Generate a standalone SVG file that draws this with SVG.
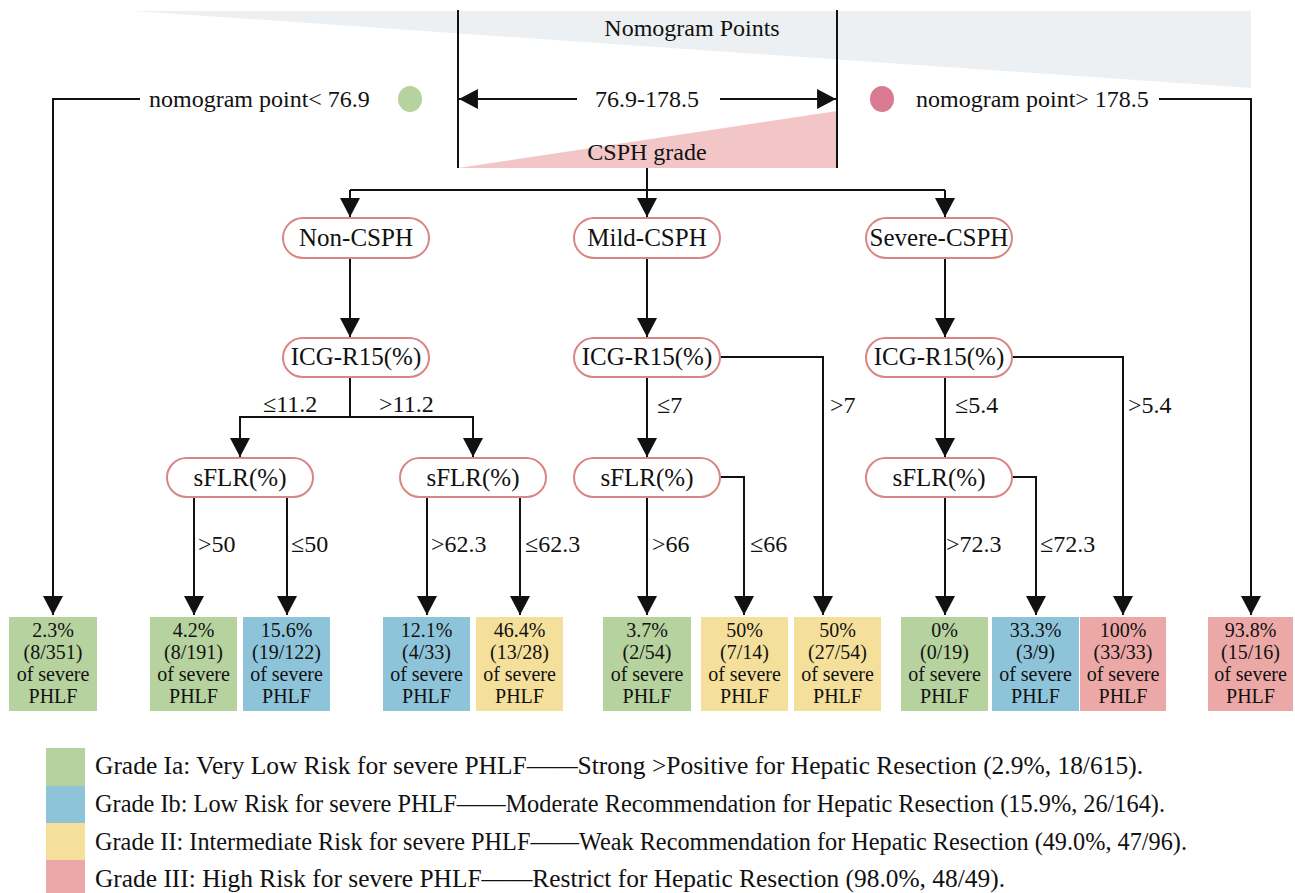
<svg xmlns="http://www.w3.org/2000/svg" width="1295" height="893" viewBox="0 0 1295 893" font-family="'Liberation Serif', 'DejaVu Serif', 'Times New Roman', serif">
<style>
text{font-family:'Liberation Serif','DejaVu Serif','Times New Roman',serif;fill:#111}
.t{font-size:24px}
.lb{font-size:24px}
.bx{font-size:20px;text-anchor:middle}
.lg{font-size:24.5px}
.node rect{fill:#fff;stroke:#d98584;stroke-width:2}
.node text{font-size:25px;text-anchor:middle}
.c{fill:none;stroke:#111;stroke-width:2}
.ca{fill:none;stroke:#111;stroke-width:2;marker-end:url(#ah)}
.g{fill:#b6d29e}.b{fill:#8ec4da}.y{fill:#f5e09b}.r{fill:#eca8a6}
</style>
<defs>
<marker id="ah" markerUnits="userSpaceOnUse" markerWidth="20" markerHeight="20" refX="18" refY="9.5" orient="auto" viewBox="0 0 18 19">
<path d="M0,0 L18,9.5 L0,19 z" fill="#111"/>
</marker>
</defs>

<g id="header">
<polygon points="133,11 1251,11 1251,88" fill="#edf0f2"/>
<polygon points="458,168 837,111 837,168" fill="#f2c6c6"/>
<line x1="458" y1="10" x2="458" y2="168" stroke="#111" stroke-width="2"/>
<line x1="837" y1="10" x2="837" y2="168" stroke="#111" stroke-width="2"/>
<text class="t" x="692" y="36" text-anchor="middle">Nomogram Points</text>
<text class="t" x="647" y="107" text-anchor="middle">76.9-178.5</text>
<text class="t" x="647" y="160" text-anchor="middle">CSPH grade</text>
<text class="t" x="149" y="107">nomogram point&lt; 76.9</text>
<ellipse cx="410" cy="99" rx="12" ry="13" fill="#b6d29e"/>
<ellipse cx="882" cy="99" rx="12" ry="13" fill="#d97a92"/>
<text class="t" x="916" y="107">nomogram point&gt; 178.5</text>
</g>

<g id="connectors">
<polyline class="ca" points="140,99 53,99 53,615"/>
<line class="ca" x1="577" y1="99" x2="459" y2="99"/>
<line class="ca" x1="720" y1="99" x2="836" y2="99"/>
<polyline class="ca" points="1159,99 1251,99 1251,615"/>
<polyline class="c" points="647,168 647,190"/>
<polyline class="c" points="350,190 945,190"/>
<line class="ca" x1="350" y1="190" x2="350" y2="217"/>
<line class="ca" x1="647" y1="190" x2="647" y2="217"/>
<line class="ca" x1="945" y1="190" x2="945" y2="217"/>
<line class="ca" x1="350" y1="258" x2="350" y2="337"/>
<line class="ca" x1="647" y1="258" x2="647" y2="337"/>
<line class="ca" x1="945" y1="258" x2="945" y2="337"/>
<polyline class="c" points="350,377 350,417"/>
<polyline class="ca" points="350,417 240,417 240,457"/>
<polyline class="ca" points="350,417 473,417 473,457"/>
<line class="ca" x1="647" y1="377" x2="647" y2="457"/>
<polyline class="ca" points="720,357 823,357 823,615"/>
<line class="ca" x1="945" y1="377" x2="945" y2="457"/>
<polyline class="ca" points="1012,357 1123,357 1123,615"/>
<line class="ca" x1="194" y1="497" x2="194" y2="615"/>
<line class="ca" x1="287" y1="497" x2="287" y2="615"/>
<line class="ca" x1="427" y1="497" x2="427" y2="615"/>
<line class="ca" x1="520" y1="497" x2="520" y2="615"/>
<line class="ca" x1="647" y1="497" x2="647" y2="615"/>
<polyline class="ca" points="720,477 744,477 744,615"/>
<line class="ca" x1="945" y1="497" x2="945" y2="615"/>
<polyline class="ca" points="1012,477 1036,477 1036,615"/>
<text class="lb" x="263" y="412">≤11.2</text>
<text class="lb" x="379" y="412">&gt;11.2</text>
<text class="lb" x="657" y="413">≤7</text>
<text class="lb" x="830" y="413">&gt;7</text>
<text class="lb" x="955" y="413">≤5.4</text>
<text class="lb" x="1128" y="413">&gt;5.4</text>
<text class="lb" x="198" y="552">&gt;50</text>
<text class="lb" x="291" y="552">≤50</text>
<text class="lb" x="431" y="552">&gt;62.3</text>
<text class="lb" x="525" y="552">≤62.3</text>
<text class="lb" x="652" y="552">&gt;66</text>
<text class="lb" x="750" y="552">≤66</text>
<text class="lb" x="946" y="552">&gt;72.3</text>
<text class="lb" x="1040" y="552">≤72.3</text>
</g>

<g id="n-non" class="node"><rect x="283" y="218" width="146" height="40" rx="20"/><text x="356" y="246">Non-CSPH</text></g>
<g id="n-mild" class="node"><rect x="574" y="218" width="146" height="40" rx="20"/><text x="647" y="246">Mild-CSPH</text></g>
<g id="n-severe" class="node"><rect x="866" y="218" width="146" height="40" rx="20"/><text x="939" y="246">Severe-CSPH</text></g>
<g id="n-icg1" class="node"><rect x="283" y="338" width="146" height="39" rx="19.5"/><text x="356" y="365">ICG-R15(%)</text></g>
<g id="n-icg2" class="node"><rect x="574" y="338" width="146" height="39" rx="19.5"/><text x="647" y="365">ICG-R15(%)</text></g>
<g id="n-icg3" class="node"><rect x="866" y="338" width="146" height="39" rx="19.5"/><text x="939" y="365">ICG-R15(%)</text></g>
<g id="n-sflr1" class="node"><rect x="167" y="458" width="146" height="39" rx="19.5"/><text x="240" y="486">sFLR(%)</text></g>
<g id="n-sflr2" class="node"><rect x="400" y="458" width="146" height="39" rx="19.5"/><text x="473" y="486">sFLR(%)</text></g>
<g id="n-sflr3" class="node"><rect x="574" y="458" width="146" height="39" rx="19.5"/><text x="647" y="486">sFLR(%)</text></g>
<g id="n-sflr4" class="node"><rect x="866" y="458" width="146" height="39" rx="19.5"/><text x="939" y="486">sFLR(%)</text></g>

<g id="leaf1"><rect class="g" x="9" y="617" width="88" height="94"/><text class="bx" x="53" y="637">2.3%</text><text class="bx" x="53" y="659">(8/351)</text><text class="bx" x="53" y="681">of severe</text><text class="bx" x="53" y="703">PHLF</text></g>
<g id="leaf2"><rect class="g" x="150" y="617" width="87" height="94"/><text class="bx" x="193.5" y="637">4.2%</text><text class="bx" x="193.5" y="659">(8/191)</text><text class="bx" x="193.5" y="681">of severe</text><text class="bx" x="193.5" y="703">PHLF</text></g>
<g id="leaf3"><rect class="b" x="243" y="617" width="87" height="94"/><text class="bx" x="286.5" y="637">15.6%</text><text class="bx" x="286.5" y="659">(19/122)</text><text class="bx" x="286.5" y="681">of severe</text><text class="bx" x="286.5" y="703">PHLF</text></g>
<g id="leaf4"><rect class="b" x="383" y="617" width="87" height="94"/><text class="bx" x="426.5" y="637">12.1%</text><text class="bx" x="426.5" y="659">(4/33)</text><text class="bx" x="426.5" y="681">of severe</text><text class="bx" x="426.5" y="703">PHLF</text></g>
<g id="leaf5"><rect class="y" x="476" y="617" width="87" height="94"/><text class="bx" x="519.5" y="637">46.4%</text><text class="bx" x="519.5" y="659">(13/28)</text><text class="bx" x="519.5" y="681">of severe</text><text class="bx" x="519.5" y="703">PHLF</text></g>
<g id="leaf6"><rect class="g" x="603" y="617" width="88" height="94"/><text class="bx" x="647" y="637">3.7%</text><text class="bx" x="647" y="659">(2/54)</text><text class="bx" x="647" y="681">of severe</text><text class="bx" x="647" y="703">PHLF</text></g>
<g id="leaf7"><rect class="y" x="701" y="617" width="87" height="94"/><text class="bx" x="744.5" y="637">50%</text><text class="bx" x="744.5" y="659">(7/14)</text><text class="bx" x="744.5" y="681">of severe</text><text class="bx" x="744.5" y="703">PHLF</text></g>
<g id="leaf8"><rect class="y" x="794" y="617" width="87" height="94"/><text class="bx" x="837.5" y="637">50%</text><text class="bx" x="837.5" y="659">(27/54)</text><text class="bx" x="837.5" y="681">of severe</text><text class="bx" x="837.5" y="703">PHLF</text></g>
<g id="leaf9"><rect class="g" x="901" y="617" width="87" height="94"/><text class="bx" x="944.5" y="637">0%</text><text class="bx" x="944.5" y="659">(0/19)</text><text class="bx" x="944.5" y="681">of severe</text><text class="bx" x="944.5" y="703">PHLF</text></g>
<g id="leaf10"><rect class="b" x="992" y="617" width="87" height="94"/><text class="bx" x="1035.5" y="637">33.3%</text><text class="bx" x="1035.5" y="659">(3/9)</text><text class="bx" x="1035.5" y="681">of severe</text><text class="bx" x="1035.5" y="703">PHLF</text></g>
<g id="leaf11"><rect class="r" x="1080" y="617" width="86" height="94"/><text class="bx" x="1123" y="637">100%</text><text class="bx" x="1123" y="659">(33/33)</text><text class="bx" x="1123" y="681">of severe</text><text class="bx" x="1123" y="703">PHLF</text></g>
<g id="leaf12"><rect class="r" x="1208" y="617" width="85" height="94"/><text class="bx" x="1250.5" y="637">93.8%</text><text class="bx" x="1250.5" y="659">(15/16)</text><text class="bx" x="1250.5" y="681">of severe</text><text class="bx" x="1250.5" y="703">PHLF</text></g>

<g id="legend">
<rect class="g" x="46" y="748" width="39" height="38"/>
<rect class="b" x="46" y="786" width="39" height="37"/>
<rect class="y" x="46" y="823" width="39" height="37"/>
<rect class="r" x="46" y="860" width="39" height="33"/>
<text class="lg" x="95" y="774" textLength="1048" lengthAdjust="spacingAndGlyphs">Grade Ia: Very Low Risk for severe PHLF——Strong &gt;Positive for Hepatic Resection (2.9%, 18/615).</text>
<text class="lg" x="95" y="812" textLength="1070" lengthAdjust="spacingAndGlyphs">Grade Ib: Low Risk for severe PHLF——Moderate Recommendation for Hepatic Resection (15.9%, 26/164).</text>
<text class="lg" x="95" y="850" textLength="1092" lengthAdjust="spacingAndGlyphs">Grade II: Intermediate Risk for severe PHLF——Weak Recommendation for Hepatic Resection (49.0%, 47/96).</text>
<text class="lg" x="95" y="887" textLength="910" lengthAdjust="spacingAndGlyphs">Grade III: High Risk for severe PHLF——Restrict for Hepatic Resection (98.0%, 48/49).</text>
</g>
</svg>
